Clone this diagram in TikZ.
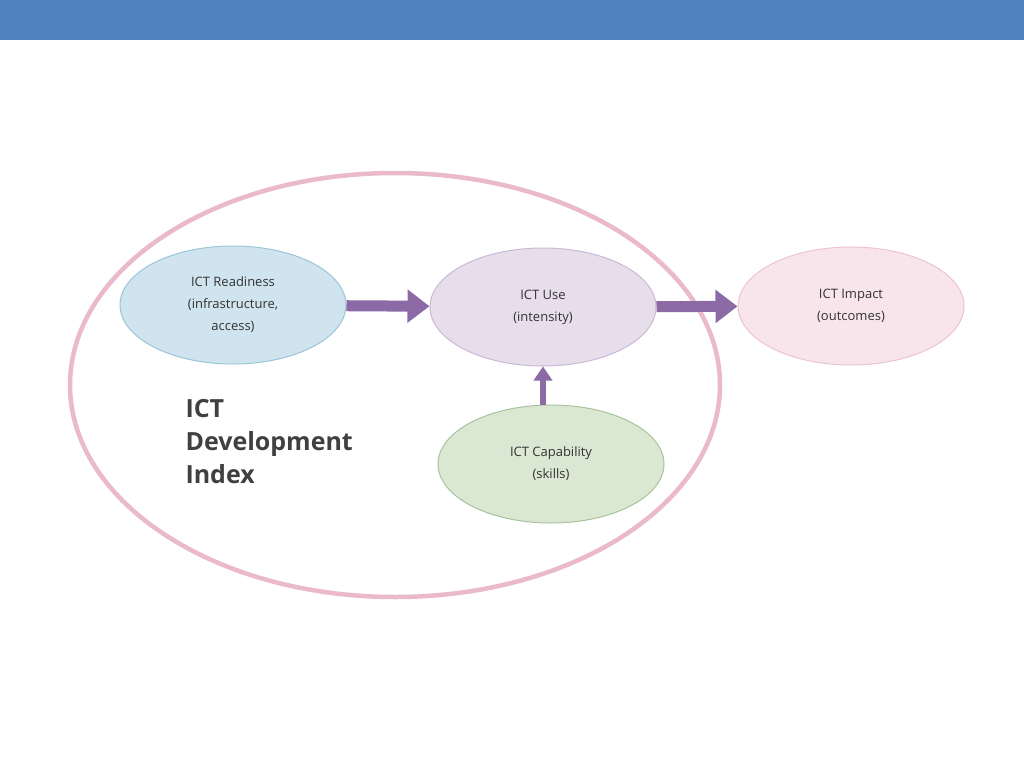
\documentclass[tikz,border=0pt]{standalone}
\usepackage{fontspec}
\setmainfont{Open Sans}
\usetikzlibrary{arrows.meta,positioning,shapes.geometric}
\definecolor{barblue}{HTML}{4F81BD}
\definecolor{idxpink}{HTML}{EBB9CC}
\definecolor{arrowpurple}{HTML}{8B6AA6}
\definecolor{readyfill}{HTML}{CFE4EE}
\definecolor{readydraw}{HTML}{9DC5D8}
\definecolor{usefill}{HTML}{E7DEEC}
\definecolor{usedraw}{HTML}{CBB9D6}
\definecolor{impactfill}{HTML}{F8E5EC}
\definecolor{impactdraw}{HTML}{EDC3D3}
\definecolor{capabfill}{HTML}{D9E7D3}
\definecolor{capabdraw}{HTML}{A9C39D}
\tikzset{
  font={\fontsize{13pt}{22}\selectfont}}
\begin{document}
\begin{tikzpicture}[x=1pt,y=-1pt,
    block_ell/.style ={ellipse, draw, line width=1pt, minimum width=226pt,
      minimum height=118pt, align=center, text=black!80},
    paths2/.style={arrowpurple, draw, line width=11pt,
      arrows={-Triangle[length=22pt, width=32pt]}}]
  \useasboundingbox (0,0) rectangle (1024,768);
  \fill[white] (0,0) rectangle (1024,768);
  % top bar
  \fill[barblue] (0,0) rectangle (1024,40);
  % outer index ellipse
  \draw[idxpink, line width=4.5pt] (395,385) ellipse [x radius=325, y radius=212];
  % nodes
  \node[block_ell, fill=readyfill, draw=readydraw] (ready) at (233,305)
    {ICT Readiness\\(infrastructure,\\access)};
  \node[block_ell, fill=usefill, draw=usedraw] (use) at (543,307)
    {ICT Use\\(intensity)};
  \node[block_ell, fill=impactfill, draw=impactdraw] (impact) at (851,306)
    {ICT Impact\\(outcomes)};
  \node[block_ell, fill=capabfill, draw=capabdraw] (capab) at (551,464)
    {ICT Capability\\(skills)};
  \node[align=left, anchor=north west, font={\fontsize{25pt}{33}\selectfont\bfseries},
    text=black!75] (idx) at (182,396) {ICT\\Development\\Index};
  % connecting nodes with paths
  \begin{scope}[every path/.style=paths2]
    \path (ready) -- (use);
    \path (use) -- (impact);
  \end{scope}
  \draw[arrowpurple, line width=6pt, arrows={-Triangle[length=14pt, width=18pt]}]
    (capab.north -| use.south) -- (use.south);
\end{tikzpicture}
\end{document}
